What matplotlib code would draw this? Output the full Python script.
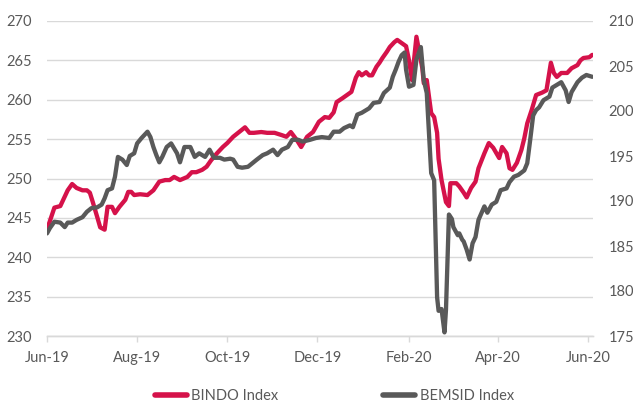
import matplotlib
matplotlib.use("Agg")
import matplotlib.pyplot as plt
import matplotlib.dates as mdates
import pandas as pd

plt.rcParams['font.family'] = ['Lato', 'DejaVu Sans']

bindo_dates = [
    "2019-06-01", "2019-06-06", "2019-06-10", "2019-06-15", "2019-06-18", "2019-06-21", "2019-06-25",
    "2019-06-28", "2019-06-30", "2019-07-02", "2019-07-05", "2019-07-07", "2019-07-10", "2019-07-12",
    "2019-07-15", "2019-07-17", "2019-07-20", "2019-07-24", "2019-07-26", "2019-07-28", "2019-07-30",
    "2019-08-03", "2019-08-08", "2019-08-12", "2019-08-16", "2019-08-20", "2019-08-23", "2019-08-26",
    "2019-08-30", "2019-09-04", "2019-09-07", "2019-09-10", "2019-09-14", "2019-09-17", "2019-09-20",
    "2019-09-24", "2019-09-28", "2019-10-01", "2019-10-05", "2019-10-09", "2019-10-13", "2019-10-16",
    "2019-10-19", "2019-10-24", "2019-10-28", "2019-11-02", "2019-11-07", "2019-11-10", "2019-11-13",
    "2019-11-17", "2019-11-20", "2019-11-24", "2019-11-28", "2019-12-02", "2019-12-06", "2019-12-09",
    "2019-12-12", "2019-12-14", "2019-12-18", "2019-12-21", "2019-12-24", "2019-12-27", "2019-12-29",
    "2019-12-31", "2020-01-03", "2020-01-05", "2020-01-07", "2020-01-10", "2020-01-12", "2020-01-14",
    "2020-01-17", "2020-01-19", "2020-01-22", "2020-01-24", "2020-01-27", "2020-01-30", "2020-02-01",
    "2020-02-03", "2020-02-06", "2020-02-10", "2020-02-11", "2020-02-13", "2020-02-16", "2020-02-18",
    "2020-02-20", "2020-02-21", "2020-02-23", "2020-02-26", "2020-02-28", "2020-02-29", "2020-03-04",
    "2020-03-06", "2020-03-09", "2020-03-11", "2020-03-14", "2020-03-17", "2020-03-19", "2020-03-23",
    "2020-03-26", "2020-03-29", "2020-04-02", "2020-04-04", "2020-04-07", "2020-04-09", "2020-04-11",
    "2020-04-14", "2020-04-17", "2020-04-19", "2020-04-21", "2020-04-24", "2020-04-27", "2020-05-01",
    "2020-05-04", "2020-05-07", "2020-05-09", "2020-05-11", "2020-05-14", "2020-05-18", "2020-05-21",
    "2020-05-25", "2020-05-27", "2020-05-29", "2020-06-02", "2020-06-04",
]
bindo_values = [
    243.5, 246.3, 246.5, 248.5, 249.3, 248.8, 248.5,
    248.5, 248.2, 247.0, 245.1, 243.8, 243.5, 246.4,
    246.4, 245.6, 246.4, 247.3, 248.3, 248.3, 247.9,
    248.0, 247.9, 248.5, 249.6, 249.8, 249.8, 250.2,
    249.8, 250.2, 250.8, 250.8, 251.1, 251.5, 252.3,
    253.2, 254.0, 254.5, 255.3, 255.9, 256.5, 255.8,
    255.8, 255.9, 255.8, 255.8, 255.5, 255.3, 255.9,
    254.9, 254.0, 255.3, 255.9, 257.2, 257.8, 257.7,
    258.4, 259.7, 260.2, 260.6, 261.0, 262.8, 263.5,
    263.1, 263.5, 263.1, 263.1, 264.2, 264.7, 265.3,
    266.1, 266.7, 267.3, 267.6, 267.2, 266.8, 265.0,
    262.5, 268.0, 264.0, 262.1, 262.5, 258.3, 257.8,
    255.8, 252.5, 249.8, 247.0, 246.5, 249.4, 249.4,
    249.0, 248.2, 247.6, 248.8, 249.6, 251.3, 253.2,
    254.5, 253.9, 252.6, 254.0, 253.2, 251.3, 251.1,
    252.0, 253.6, 255.1, 257.0, 258.7, 260.6, 260.9,
    261.2, 264.7, 263.4, 262.9, 263.4, 263.4, 264.0,
    264.4, 265.0, 265.3, 265.4, 265.7,
]

bemsid_dates = [
    "2019-06-01", "2019-06-03", "2019-06-06", "2019-06-10", "2019-06-13", "2019-06-15", "2019-06-18",
    "2019-06-21", "2019-06-25", "2019-06-28", "2019-07-01", "2019-07-05", "2019-07-08", "2019-07-10",
    "2019-07-12", "2019-07-15", "2019-07-17", "2019-07-19", "2019-07-22", "2019-07-25", "2019-07-27",
    "2019-07-30", "2019-08-01", "2019-08-04", "2019-08-08", "2019-08-10", "2019-08-12", "2019-08-14",
    "2019-08-16", "2019-08-18", "2019-08-21", "2019-08-24", "2019-08-28", "2019-08-30", "2019-09-02",
    "2019-09-06", "2019-09-09", "2019-09-12", "2019-09-16", "2019-09-19", "2019-09-22", "2019-09-26",
    "2019-09-29", "2019-10-03", "2019-10-05", "2019-10-08", "2019-10-11", "2019-10-15", "2019-10-18",
    "2019-10-21", "2019-10-25", "2019-10-28", "2019-11-01", "2019-11-04", "2019-11-07", "2019-11-11",
    "2019-11-14", "2019-11-18", "2019-11-21", "2019-11-26", "2019-11-30", "2019-12-04", "2019-12-09",
    "2019-12-12", "2019-12-16", "2019-12-19", "2019-12-23", "2019-12-25", "2019-12-28", "2019-12-31",
    "2020-01-05", "2020-01-08", "2020-01-12", "2020-01-15", "2020-01-19", "2020-01-21", "2020-01-23",
    "2020-01-25", "2020-01-27", "2020-01-29", "2020-01-30", "2020-02-01", "2020-02-04", "2020-02-06",
    "2020-02-09", "2020-02-11", "2020-02-13", "2020-02-16", "2020-02-18", "2020-02-20", "2020-02-21",
    "2020-02-23", "2020-02-25", "2020-02-26", "2020-02-28", "2020-03-01", "2020-03-02", "2020-03-05",
    "2020-03-06", "2020-03-08", "2020-03-09", "2020-03-11", "2020-03-13", "2020-03-15", "2020-03-17",
    "2020-03-19", "2020-03-23", "2020-03-25", "2020-03-28", "2020-03-31", "2020-04-03", "2020-04-07",
    "2020-04-09", "2020-04-12", "2020-04-15", "2020-04-19", "2020-04-21", "2020-04-23", "2020-04-25",
    "2020-04-27", "2020-04-29", "2020-05-02", "2020-05-06", "2020-05-08", "2020-05-11", "2020-05-14",
    "2020-05-17", "2020-05-19", "2020-05-21", "2020-05-25", "2020-05-28", "2020-05-31", "2020-06-04",
]
bemsid_values = [
    186.4, 187.0, 187.7, 187.6, 187.1, 187.6, 187.6,
    187.9, 188.2, 188.8, 189.2, 189.3, 189.6, 190.3,
    191.2, 191.4, 192.7, 194.9, 194.6, 194.0, 195.0,
    195.3, 196.4, 197.0, 197.7, 197.1, 196.0, 195.1,
    194.3, 194.9, 196.0, 196.4, 195.3, 194.3, 196.0,
    196.0, 194.9, 195.3, 194.9, 195.7, 194.8, 194.8,
    194.6, 194.7, 194.6, 193.8, 193.7, 193.8, 194.2,
    194.6, 195.1, 195.3, 195.7, 195.1, 195.7, 196.0,
    196.8, 196.8, 196.6, 196.8, 197.0, 197.1, 197.0,
    197.7, 197.7, 198.1, 198.4, 198.2, 199.6, 199.8,
    200.3, 200.9, 201.0, 202.0, 202.6, 203.8, 204.6,
    205.5, 206.2, 206.5, 204.6, 202.7, 202.9, 205.7,
    207.1, 203.4, 202.0, 193.1, 192.3, 179.3, 177.8,
    178.0, 175.4, 177.9, 188.5, 188.0, 187.1, 186.2,
    186.4, 185.7, 185.5, 184.6, 183.5, 185.3, 186.0,
    187.9, 189.4, 188.7, 189.6, 189.9, 191.2, 191.4,
    192.1, 192.7, 192.9, 193.4, 194.2, 196.8, 199.5,
    200.1, 200.4, 201.2, 201.6, 202.6, 202.9, 203.2,
    202.3, 201.0, 202.1, 203.2, 203.7, 204.0, 203.8,
]

left_ticks = [230, 235, 240, 245, 250, 255, 260, 265, 270]
right_ticks = [175, 180, 185, 190, 195, 200, 205, 210]
series_names = ["BINDO Index", "BEMSID Index"]

RED = "#D5124A"
GRAY = "#595959"
TXT = "#595959"
GRID = "#D9D9D9"

fig = plt.figure(figsize=(6.33, 4.05), dpi=100)
ax = fig.add_axes([47/633, 1-336/405, (593-47)/633, (336-21)/405])
ax2 = ax.twinx()

bd = pd.to_datetime(bindo_dates)
gd = pd.to_datetime(bemsid_dates)

l1, = ax.plot(bd, bindo_values, color=RED, lw=3.1, solid_joinstyle='round', solid_capstyle='round')
l2, = ax2.plot(gd, bemsid_values, color=GRAY, lw=3.1, solid_joinstyle='round', solid_capstyle='round')

ax.set_ylim(230, 270)
ax2.set_ylim(175, 210)
ax.set_yticks(left_ticks)
ax2.set_yticks(right_ticks)
ax.set_xlim(pd.Timestamp("2019-06-01"), pd.Timestamp("2020-06-04 12:00"))

ax.xaxis.set_major_locator(mdates.MonthLocator(bymonth=[2, 4, 6, 8, 10, 12]))
ax.xaxis.set_major_formatter(mdates.DateFormatter("%b-%y"))

ax.grid(axis='y', color=GRID, lw=1.0)
ax.set_axisbelow(True)
for a in (ax, ax2):
    for s in ("top", "left", "right"):
        a.spines[s].set_visible(False)
    a.spines["bottom"].set_color(GRID)
    a.spines["bottom"].set_linewidth(1.0)

ax.tick_params(axis='y', length=0, pad=11, labelsize=10.5, labelcolor=TXT)
ax2.tick_params(axis='y', length=0, pad=11, labelsize=10.5, labelcolor=TXT)
ax.tick_params(axis='x', length=4, width=1, color=GRID, pad=7, labelsize=10.5, labelcolor=TXT)

leg = fig.legend([l1, l2], series_names, loc='center', bbox_to_anchor=(0.528, 1-396/405),
                 ncol=2, frameon=False, fontsize=10.5, handlelength=2.2, handletextpad=0.3,
                 columnspacing=7.2, labelcolor=TXT)
for h in leg.legend_handles:
    h.set_linewidth(4.0)

fig.savefig("out.png", dpi=100)
